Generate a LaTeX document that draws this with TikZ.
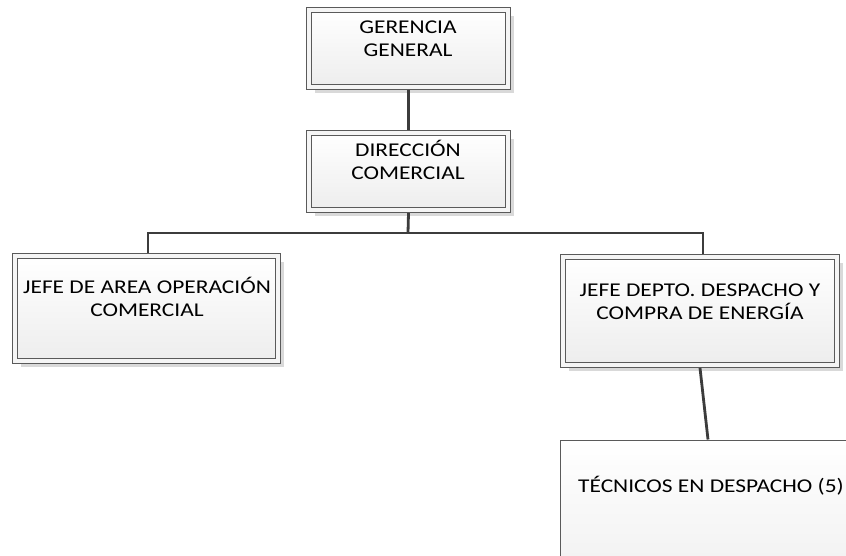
\documentclass[tikz,border=0pt]{standalone}
\usepackage{fontspec}
\setmainfont{Carlito}[FakeStretch=1.2]
\usepackage{xcolor}
\usetikzlibrary{shadows}

\definecolor{linegray}{HTML}{3C3C3C}
\definecolor{framegray}{HTML}{5A5A5A}

\tikzset{
    box/.style={draw=framegray, line width=0.9pt, double=white!96!black, double distance=4pt,
        top color=white, bottom color=black!7, outer sep=3pt,
        drop shadow={shadow xshift=6pt, shadow yshift=-6pt, fill=black!15, opacity=1}},
    flatbox/.style={draw=framegray, line width=0.9pt, top color=white, bottom color=black!6},
    ttl/.style={font=\fontsize{19.5}{23}\selectfont, align=center, inner sep=0pt, anchor=north},
    link/.style={draw=linegray, line width=2.8pt}
}

\begin{document}
\begin{tikzpicture}[x=1pt, y=-1pt]
    \clip (0,0) rectangle (846,556);
    \fill [white] (0,0) rectangle (846,556);

    % boxes
    \node [box, minimum width=199pt, minimum height=77pt] (gg) at (408.5,48.5) {};
    \node [box, minimum width=199pt, minimum height=77pt] (dc) at (408.5,171.5) {};
    \node [box, minimum width=263pt, minimum height=105pt] (ja) at (146.5,308.5) {};
    \node [box, minimum width=274pt, minimum height=108pt] (jd) at (700,311) {};
    \node [flatbox, minimum width=302pt, minimum height=150pt, outer sep=0.5pt] (tec) at (711,515) {};

    % texts
    \node [ttl] (ggt) at (408,21) {GERENCIA\\GENERAL};
    \node [ttl] (dct) at (408,140) {DIRECCIÓN\\COMERCIAL};
    \node [ttl] (jat) at (147,277) {JEFE DE AREA OPERACIÓN\\COMERCIAL};
    \node [ttl] (jdt) at (700,283.5) {JEFE DEPTO. DESPACHO Y\\COMPRA DE ENERGÍA};
    \node [ttl] (tect) at (711,476) {TÉCNICOS EN DESPACHO (5)};

    % connectors
    \coordinate (bus) at (408,233);
    \draw [link] (gg.south) -- (dc.south |- dc.north);
    \draw [link] (dc.south) -- (bus);
    \draw [link] (bus) -| ([xshift=1.5pt]ja.north);
    \draw [link] (bus) -| ([xshift=3pt]jd.north);
    \draw [link] (jd.south) -- ([xshift=-3pt]tec.north);
\end{tikzpicture}
\end{document}
